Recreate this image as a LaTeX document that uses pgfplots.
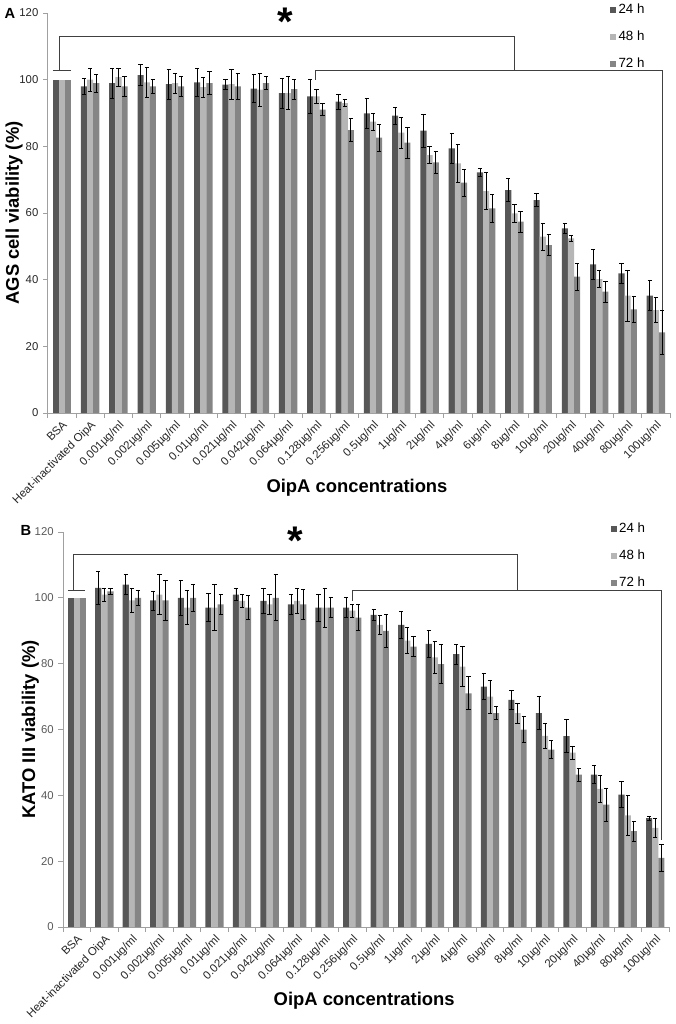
\documentclass[border=0pt]{standalone}
\usepackage{fontspec}
\setmainfont{Liberation Sans}
\usepackage{pgfplots}
\usepackage{pgfplotstable}
\pgfplotsset{compat=1.18}
\definecolor{c24}{HTML}{575757}
\definecolor{c48}{HTML}{B6B6B6}
\definecolor{c72}{HTML}{858585}
\definecolor{axisgray}{HTML}{A0A0A0}
\definecolor{brk}{HTML}{404040}

% x a(24h) ea b(48h) eb c(72h) ec
\pgfplotstableread{
x a ea b eb c ec
1 98 2.4 100 3.5 99 2.7
2 99 4.5 100.8 2.7 98 3
3 101.4 3.2 99.2 4.5 98 2
4 98.7 4.5 99 3 98 3
5 99.2 4.3 97.8 3 99 3.5
6 98.5 1.5 98.7 4.5 98 4
7 97.3 4.2 97 5 99 2
8 96 4.5 96 5 97.2 3
9 95 5 95 2 91 1.8
10 93.4 2.2 93 1 84.9 3.5
11 89.9 4.5 87.4 2.5 82.6 4
12 89.2 2.5 84.1 4.7 81.1 4.7
13 84.7 5 77.4 2.5 75.2 3.2
14 79.4 4.5 74.9 5.7 69.1 4
15 72.2 1.2 66.6 5.5 61.4 4.2
16 66.9 3.5 59.9 2.8 57.4 3.1
17 63.9 2 52.9 4.1 50.4 3.2
18 55.4 1.6 52.4 1 40.9 4
19 44.6 4.5 40.2 2.6 36.4 3.2
20 41.9 3 35.2 7.6 31.1 4
21 35.2 4.5 30.9 3.8 24.2 6.6
}\dataA

\pgfplotstableread{
x a ea b eb c ec
1 103 5 101 2 102 1
2 104 3 99.2 3.7 100 2.2
3 99.2 2.9 101 6 99.2 6
4 100 5.2 97 5.2 100 4.1
5 97 4.2 97 7 98 3
6 101 1.9 99.1 1.9 97 3.7
7 99.1 3.8 98 3 100 7
8 98 3 99.1 3.8 98 4.5
9 97 4.1 97 6 97 3
10 97 3 96.1 2 94 3.9
11 94.8 1.6 91.8 3 90 5
12 91.8 4.2 87 4 85.2 3
13 86 4 81.9 5 79.9 6
14 82.9 3 79.1 6 71 5
15 73 4 70 5 65 1.9
16 69 3 65 3 60 4
17 65 5 58.1 3.8 53.9 2.8
18 58 5 53 2 46.3 2
19 46.3 2.8 42 4.1 37.2 5
20 40.2 4 33.9 6 29.1 3
21 33.1 0.6 30.1 3 21 4
}\dataB

\pgfplotsset{
  panel/.style={
    scale only axis, anchor=north west, clip=false,
    xmin=-0.5, xmax=21.5, ymin=0, ymax=120,
    ytick={0,20,...,120},
    xtick={0,...,21},
    xticklabels={BSA,Heat-inactivated OipA,0.001µg/ml,0.002µg/ml,0.005µg/ml,0.01µg/ml,0.021µg/ml,0.042µg/ml,0.064µg/ml,0.128µg/ml,0.256µg/ml,0.5µg/ml,1µg/ml,2µg/ml,4µg/ml,6µg/ml,8µg/ml,10µg/ml,20µg/ml,40µg/ml,80µg/ml,100µg/ml},
    x tick label style={rotate=45, anchor=north east, font=\fontsize{8.6}{9}\selectfont, inner sep=1pt, text=black!85},
    major x tick style={draw=none},
    minor xtick={-0.5,0.5,...,21.5},
    minor x tick style={draw=axisgray, line width=0.6pt},
    y tick style={draw=axisgray, line width=0.6pt},
    tick align=outside,
    major tick length=3.5pt, minor tick length=3.5pt,
    axis x line*=bottom, axis y line*=left,
    axis line style={draw=axisgray, line width=0.6pt, -},
    /pgf/number format/assume math mode=true,
    yticklabel style={font=\fontsize{8.5}{9}\selectfont},
    xlabel={OipA concentrations},
    every axis x label/.style={at={(axis description cs:0.497,-0.1875)}, anchor=center, font=\bfseries\fontsize{13.8}{15}\selectfont},
    every axis y label/.style={at={(axis description cs:-0.054,0.5)}, rotate=90, anchor=center, font=\bfseries\fontsize{13.8}{15}\selectfont},
    legend style={at={(0.9036,1.03)}, anchor=north west, draw=none, fill=none, font=\fontsize{10}{12}\selectfont, row sep=7.5pt, inner sep=0pt, legend cell align=left},
  },
  errb/.style={error bars/.cd, y dir=both, y explicit,
    error bar style={draw=black, line width=0.6pt, xshift=#1},
    error mark options={draw=black, line width=0.6pt, mark size=1.6pt, rotate=90}},
  b24/.style={ybar, bar width=4.6pt, bar shift=-4.6pt, fill=c24, draw=none, forget plot},
  b48/.style={ybar, bar width=4.6pt, bar shift=0pt, fill=c48, draw=none, forget plot},
  b72/.style={ybar, bar width=4.6pt, bar shift=4.6pt, fill=c72, draw=none, forget plot},
}

\begin{document}
\begin{tikzpicture}
\path[use as bounding box] (0,0) rectangle (506.25pt,-768pt);

% ---------------- Panel A ----------------
\begin{axis}[panel, at={(35.8pt,-9.75pt)}, width=466.7pt, height=300pt,
  ylabel={AGS cell viability (\%)}, yticklabel style={text=black!85}]
\addplot[b24] coordinates {(0,100)};
\addplot[b48] coordinates {(0,100)};
\addplot[b72] coordinates {(0,100)};
\addplot[b24, errb=-4.6pt] table[x=x, y=a, y error=ea] {\dataA};
\addplot[b48, errb=0pt] table[x=x, y=b, y error=eb] {\dataA};
\addplot[b72, errb=4.6pt] table[x=x, y=c, y error=ec] {\dataA};
\addlegendimage{legend image code/.code={\fill[c24] (0pt,-1.9pt) rectangle (3.8pt,1.9pt);}}
\addlegendentry{24 h}
\addlegendimage{legend image code/.code={\fill[c48] (0pt,-1.9pt) rectangle (3.8pt,1.9pt);}}
\addlegendentry{48 h}
\addlegendimage{legend image code/.code={\fill[c72] (0pt,-1.9pt) rectangle (3.8pt,1.9pt);}}
\addlegendentry{72 h}
\draw[brk, line width=0.6pt] (axis cs:-0.08,102.7) |- (axis cs:16,113.1) -- (axis cs:16,102.7);
\draw[brk, line width=0.6pt] (axis cs:-0.32,102.7) -- (axis cs:0.32,102.7);
\draw[brk, line width=0.6pt] (axis cs:8.97,100) |- (axis cs:21.23,102.7) -- (axis cs:21.23,31);
\node[font=\bfseries\fontsize{30}{30}\selectfont] at (axis cs:7.91,117.3) {*};
\end{axis}

% ---------------- Panel B ----------------
\begin{axis}[panel, at={(47.25pt,-399pt)}, width=454.5pt, height=296.25pt,
  ylabel={KATO III viability (\%)}, yticklabel style={text=black!65}]
\addplot[b24] coordinates {(0,100)};
\addplot[b48] coordinates {(0,100)};
\addplot[b72] coordinates {(0,100)};
\addplot[b24, errb=-4.6pt] table[x=x, y=a, y error=ea] {\dataB};
\addplot[b48, errb=0pt] table[x=x, y=b, y error=eb] {\dataB};
\addplot[b72, errb=4.6pt] table[x=x, y=c, y error=ec] {\dataB};
\addlegendimage{legend image code/.code={\fill[c24] (0pt,-1.9pt) rectangle (3.8pt,1.9pt);}}
\addlegendentry{24 h}
\addlegendimage{legend image code/.code={\fill[c48] (0pt,-1.9pt) rectangle (3.8pt,1.9pt);}}
\addlegendentry{48 h}
\addlegendimage{legend image code/.code={\fill[c72] (0pt,-1.9pt) rectangle (3.8pt,1.9pt);}}
\addlegendentry{72 h}
\draw[brk, line width=0.6pt] (axis cs:-0.14,102.3) |- (axis cs:16,113.2) -- (axis cs:16,102.4);
\draw[brk, line width=0.6pt] (axis cs:-0.32,102.3) -- (axis cs:0.3,102.3);
\draw[brk, line width=0.6pt] (axis cs:10,99) |- (axis cs:21.23,102.4) -- (axis cs:21.23,26.4);
\node[font=\bfseries\fontsize{30}{30}\selectfont] at (axis cs:7.92,117.4) {*};
\end{axis}

\node[font=\bfseries\fontsize{11}{12}\selectfont] at (7.5pt,-9.75pt) {A};
\node[font=\bfseries\fontsize{11}{12}\selectfont] at (19.5pt,-397.5pt) {B};
\end{tikzpicture}
\end{document}
